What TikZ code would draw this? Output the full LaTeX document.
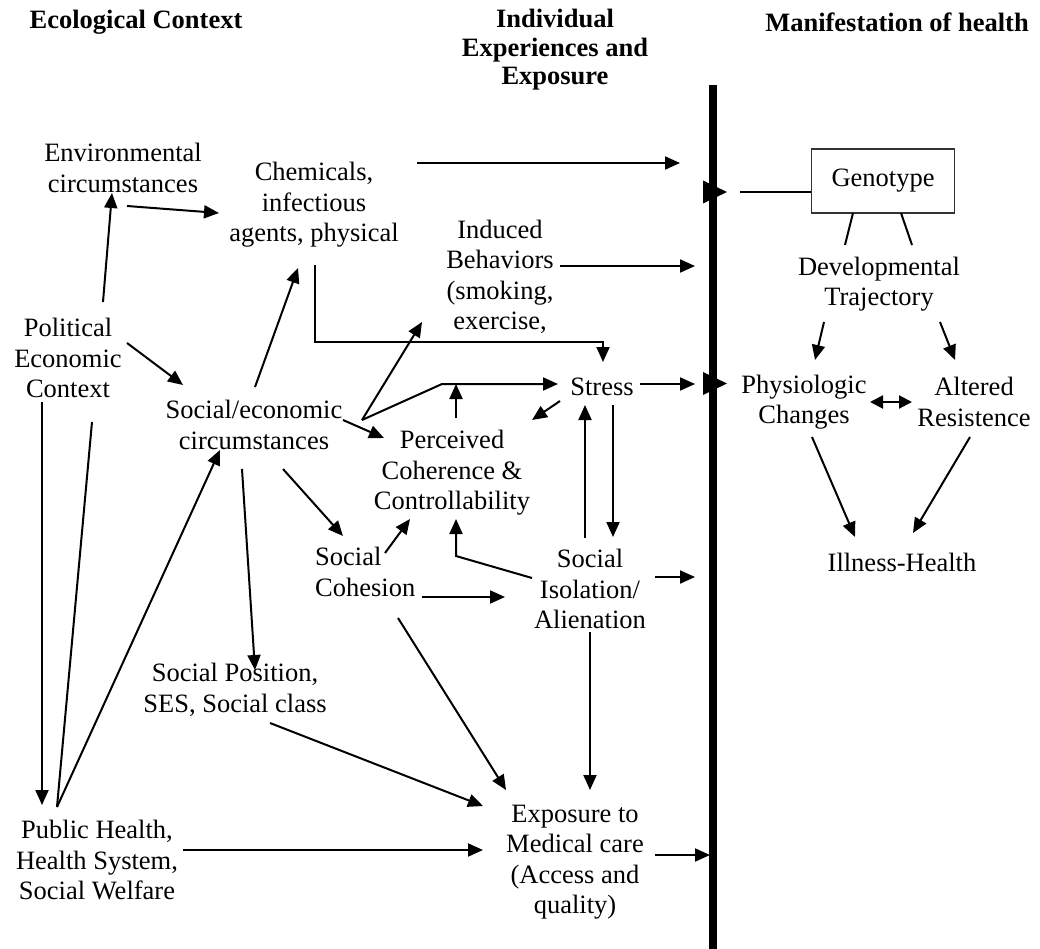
\documentclass[tikz,border=0pt]{standalone}
\usepackage{fontspec}
\setmainfont{Liberation Serif}
\usetikzlibrary{arrows.meta}
\tikzset{
  lbl/.style={align=center, inner sep=0pt, font=\fontsize{26.5}{30.5}\selectfont},
  hdr/.style={align=center, inner sep=0pt, font=\bfseries\fontsize{26.5}{28.5}\selectfont},
  arr/.style={line width=2pt, -{Triangle[length=15pt,width=13pt]}},
  dbl/.style={line width=2pt, {Triangle[length=13pt,width=13pt]}-{Triangle[length=13pt,width=13pt]}},
  ln/.style={line width=2pt},
  bigtip/.style={fill=black}
}
\begin{document}
\begin{tikzpicture}[x=1pt,y=-1pt]
\useasboundingbox (0,0) rectangle (1040,949);
% headers
\node[hdr] (h1) at (136,22) {Ecological Context};
\node[hdr] (h2) at (555,50) {Individual\\Experiences and\\Exposure};
\node[hdr] (h3) at (897,22) {Manifestation of health};
% thick divider
\coordinate (bt) at (713,85);
\coordinate (bb) at (713,949);
\draw[line width=8pt] (bt) -- (bb);
% nodes
\node[lbl] (env) at (123,168) {Environmental\\circumstances};
\node[lbl] (chem) at (314,205) {Chemicals,\\infectious\\agents, physical};
\node[lbl] (ind) at (500,277) {Induced\\Behaviors\\(smoking,\\exercise,};
\node[lbl] (pol) at (68,358) {Political\\Economic\\Context};
\node[lbl] (soc) at (254,425) {Social/economic\\circumstances};
\node[lbl] (per) at (452,473) {Perceived\\Coherence \&\\Controllability};
\node[lbl] (stress) at (602,387) {Stress};
\node[lbl, align=left, anchor=west] (coh) at (315,572) {Social\\Cohesion};
\node[lbl] (iso) at (590,589) {Social\\Isolation/\\Alienation};
\node[lbl] (pos) at (235,690) {Social Position,\\SES, Social class};
\node[lbl] (pub) at (97,860) {Public Health,\\Health System,\\Social Welfare};
\node[lbl] (exp) at (575,862) {Exposure to\\Medical care\\(Access and\\quality)};
\node[lbl, draw=black!80, line width=1.6pt, minimum width=143pt, minimum height=64pt] (geno) at (883,181) {Genotype};
\node[lbl] (dev) at (879,284) {Developmental\\Trajectory};
\node[lbl] (phys) at (804,402) {Physiologic\\Changes};
\node[lbl] (alt) at (974,402) {Altered\\Resistence};
\node[lbl] (ill) at (902,562) {Illness-Health};
% coordinates
\coordinate (c1a) at (417,163); \coordinate (c1b) at (680,163);
\coordinate (c2a) at (560,266); \coordinate (c2b) at (695,266);
\coordinate (g1) at (740,192);
\coordinate (c4a) at (640,384); \coordinate (c4b) at (695,384);
\coordinate (c5a) at (655,577); \coordinate (c5b) at (695,577);
\coordinate (c6a) at (655,855); \coordinate (c6b) at (710,855);
\coordinate (c7a) at (103,302); \coordinate (c7b) at (112,193);
\coordinate (c8a) at (127,206); \coordinate (c8b) at (219,213);
\coordinate (c9a) at (127,343); \coordinate (c9b) at (183,385);
\coordinate (c10a) at (255,387); \coordinate (c10b) at (298,268);
\coordinate (c11a) at (42,402); \coordinate (c11b) at (42,805);
\coordinate (c12a) at (92,422); \coordinate (c12b) at (57,807);
\coordinate (c13b) at (220,450);
\coordinate (c14a) at (242,469); \coordinate (c14b) at (255,670);
\coordinate (c15a) at (283,469); \coordinate (c15b) at (343,536);
\coordinate (c16a) at (343,420); \coordinate (c16b) at (384,438);
\coordinate (J) at (362,420);
\coordinate (c17b) at (422,322);
\coordinate (c18m) at (442,384); \coordinate (c18b) at (558,384);
\coordinate (c19a) at (456,418); \coordinate (c19b) at (456,384);
\coordinate (c20a) at (560,401); \coordinate (c20b) at (532,420);
\coordinate (c21a) at (585,538); \coordinate (c21b) at (585,405);
\coordinate (c22a) at (613,405); \coordinate (c22b) at (613,537);
\coordinate (c23a) at (385,553); \coordinate (c23b) at (410,519);
\coordinate (c24a) at (532,578); \coordinate (c24m) at (456,556); \coordinate (c24b) at (456,519);
\coordinate (c25a) at (422,597); \coordinate (c25b) at (505,597);
\coordinate (c26a) at (398,618); \coordinate (c26b) at (506,790);
\coordinate (c27a) at (270,723); \coordinate (c27b) at (483,806);
\coordinate (c28a) at (183,850); \coordinate (c28b) at (483,850);
\coordinate (c29a) at (590,632); \coordinate (c29b) at (590,790);
\coordinate (c30a) at (315,265); \coordinate (c30m) at (315,342); \coordinate (c30n) at (603,342); \coordinate (c30b) at (603,362);
\coordinate (r1a) at (853,213); \coordinate (r1b) at (845,245);
\coordinate (r2a) at (901,213); \coordinate (r2b) at (912,245);
\coordinate (r3a) at (824,322); \coordinate (r3b) at (815,360);
\coordinate (r4a) at (940,322); \coordinate (r4b) at (955,360);
\coordinate (r5a) at (870,402); \coordinate (r5b) at (912,402);
\coordinate (r6a) at (812,437); \coordinate (r6b) at (855,537);
\coordinate (r7a) at (970,437); \coordinate (r7b) at (913,533);
% arrows to divider
\draw[arr] (c1a) -- (c1b);
\draw[arr] (c2a) -- (c2b);
\draw[ln] (g1) -- (g1 -| geno.west);
\fill[bigtip] (703,180.5) -- (727,192) -- (703,203.5) -- cycle;
\draw[arr] (c4a) -- (c4b);
\fill[bigtip] (703,372) -- (727,383.5) -- (703,395) -- cycle;
\draw[arr] (c5a) -- (c5b);
\draw[arr] (c6a) -- (c6b);
% left side
\draw[arr] (c7a) -- (c7b);
\draw[arr] (c8a) -- (c8b);
\draw[arr] (c9a) -- (c9b);
\draw[arr] (c10a) -- (c10b);
\draw[arr] (c11a) -- (c11b);
\draw[ln] (c12a) -- (c12b);
\draw[arr] (c12b) -- (c13b);
\draw[arr] (c14a) -- (c14b);
\draw[arr] (c15a) -- (c15b);
\draw[arr] (c16a) -- (c16b);
\draw[arr] (J) -- (c17b);
\draw[arr] (J) -- (c18m) -- (c18b);
\draw[arr] (c19a) -- (c19b);
\draw[arr] (c20a) -- (c20b);
\draw[arr] (c21a) -- (c21b);
\draw[arr] (c22a) -- (c22b);
\draw[arr] (c23a) -- (c23b);
\draw[arr] (c24a) -- (c24m) -- (c24b);
\draw[arr] (c25a) -- (c25b);
\draw[arr] (c26a) -- (c26b);
\draw[arr] (c27a) -- (c27b);
\draw[arr] (c28a) -- (c28b);
\draw[arr] (c29a) -- (c29b);
\draw[arr] (c30a) -- (c30m) -- (c30n) -- (c30b);
% right side
\draw[ln] (r1a) -- (r1b);
\draw[ln] (r2a) -- (r2b);
\draw[arr] (r3a) -- (r3b);
\draw[arr] (r4a) -- (r4b);
\draw[dbl] (r5a) -- (r5b);
\draw[arr] (r6a) -- (r6b);
\draw[arr] (r7a) -- (r7b);
\end{tikzpicture}
\end{document}
